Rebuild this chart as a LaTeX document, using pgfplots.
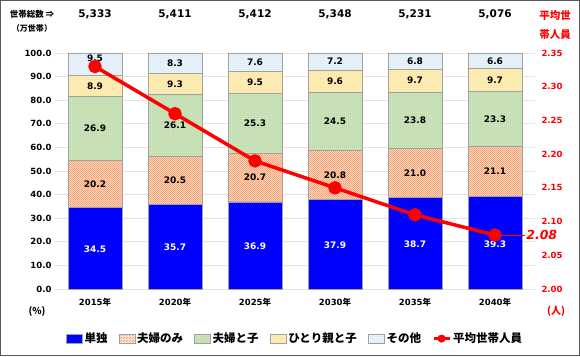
\documentclass[border=0pt]{standalone}
\usepackage{fontspec}
\setmainfont{DejaVu Sans}
\newfontfamily\jp{Noto Sans CJK JP}
\usepackage{pgfplots}
\pgfplotsset{compat=1.18}
\usetikzlibrary{patterns}
\definecolor{solo}{HTML}{0000FF}
\definecolor{coupleF}{HTML}{FDE3D3}
\definecolor{coupleP}{HTML}{F4A070}
\definecolor{kidsF}{HTML}{CBE3BA}
\definecolor{kidsP}{HTML}{A6CD8A}
\definecolor{singleF}{HTML}{FFEDB8}
\definecolor{singleP}{HTML}{F3D07A}
\definecolor{otherF}{HTML}{E8F3FB}
\definecolor{otherP}{HTML}{B5D6EF}
\definecolor{gridc}{HTML}{E4E4E4}
\definecolor{edgec}{HTML}{A0A0A0}
\pgfdeclarepatternformonly{finecheck}{\pgfpointorigin}{\pgfpoint{2.4pt}{2.4pt}}{\pgfpoint{2.4pt}{2.4pt}}{%
 \pgfpathrectangle{\pgfpointorigin}{\pgfpoint{1.2pt}{1.2pt}}%
 \pgfpathrectangle{\pgfpoint{1.2pt}{1.2pt}}{\pgfpoint{1.2pt}{1.2pt}}%
 \pgfusepath{fill}}
\pgfdeclarepatternformonly{finedots}{\pgfpointorigin}{\pgfpoint{2pt}{2pt}}{\pgfpoint{2pt}{2pt}}{%
 \pgfpathrectangle{\pgfpointorigin}{\pgfpoint{0.8pt}{0.8pt}}%
 \pgfusepath{fill}}
\pgfplotsset{common/.style={
 at={(55pt,67pt)}, anchor=south west,
 scale only axis, width=480pt, height=236pt,
 xmin=-0.5, xmax=5.5, clip=false,
 axis line style={draw=none}, major tick length=0pt,
 /pgf/number format/assume math mode=true}}
\begin{document}
\begin{tikzpicture}
\useasboundingbox (0pt,0pt) rectangle (580pt,356pt);
\draw[gray!70!black, line width=1pt] (0.5pt,0.5pt) rectangle (579.5pt,355.5pt);
\begin{axis}[common,
 ymin=0, ymax=100,
 ybar stacked, bar width=54pt,
 area legend,
 legend image code/.code={\draw[#1] (0pt,-4.5pt) rectangle (16pt,4.5pt);},
 xtick={0,1,2,3,4,5},
 xticklabels={2015{\jp 年},2020{\jp 年},2025{\jp 年},2030{\jp 年},2035{\jp 年},2040{\jp 年}},
 xticklabel style={font=\bfseries\fontsize{8.5}{10}\selectfont, yshift=-6pt},
 ytick={0,10,20,30,40,50,60,70,80,90,100},
 yticklabel style={font=\bfseries\fontsize{8.5}{10}\selectfont, /pgf/number format/.cd, fixed, fixed zerofill, precision=1},
 ymajorgrids, grid style={gridc, line width=0.8pt},
 legend style={at={(0.5,-0.21)}, anchor=center, draw=none, fill=none, legend columns=-1,
   font=\jp\bfseries\fontsize{11.5}{13}\selectfont, inner sep=0pt,
   /tikz/every even column/.append style={column sep=9pt}},
]
\addplot[fill=solo, draw=edgec, line width=0.6pt]
 coordinates {(0,34.5) (1,35.7) (2,36.9) (3,37.9) (4,38.7) (5,39.3)};
\addlegendentry{単独}
\addplot[fill=coupleF, draw=edgec, line width=0.6pt, postaction={pattern=finecheck, pattern color=coupleP}]
 coordinates {(0,20.2) (1,20.5) (2,20.7) (3,20.8) (4,21.0) (5,21.1)};
\addlegendentry{夫婦のみ}
\addplot[fill=kidsF, draw=edgec, line width=0.6pt, postaction={pattern=finedots, pattern color=kidsP}]
 coordinates {(0,26.9) (1,26.1) (2,25.3) (3,24.5) (4,23.8) (5,23.3)};
\addlegendentry{夫婦と子}
\addplot[fill=singleF, draw=edgec, line width=0.6pt, postaction={pattern=finedots, pattern color=singleP}]
 coordinates {(0,8.9) (1,9.3) (2,9.5) (3,9.6) (4,9.7) (5,9.7)};
\addlegendentry{ひとり親と子}
\addplot[fill=otherF, draw=edgec, line width=0.6pt, postaction={pattern=finedots, pattern color=otherP}]
 coordinates {(0,9.5) (1,8.3) (2,7.6) (3,7.2) (4,6.8) (5,6.6)};
\addlegendentry{その他}
\addlegendimage{legend image code/.code={\draw[red, line width=3pt] (0pt,0pt) -- (16pt,0pt); \fill[red] (8pt,0pt) circle (3.8pt);}}
\addlegendentry{平均世帯人員}
\foreach \i/\v in {0/{5,333},1/{5,411},2/{5,412},3/{5,348},4/{5,231},5/{5,076}}{
 \edef\tmp{\noexpand\node[font=\noexpand\bfseries\noexpand\fontsize{10.5}{12}\noexpand\selectfont] at (axis cs:\i,116.5) {\v};}\tmp
}
\end{axis}
% segment labels (centres of the stacked segments)
\begin{axis}[common, ymin=0, ymax=100, hide axis,
 nodes near coords, point meta=explicit symbolic,
 every node near coord/.append style={anchor=center, font=\bfseries\fontsize{9}{10}\selectfont}]
\addplot[only marks, mark=none, nodes near coords style={text=white}] coordinates
 {(0,17.0)[34.5] (1,17.6)[35.7] (2,18.2)[36.9] (3,18.7)[37.9] (4,19.1)[38.7] (5,18.8)[39.3]};
\addplot[only marks, mark=none, nodes near coords style={text=black}] coordinates
 {(0,44.6)[20.2] (1,45.95)[20.5] (2,47.25)[20.7] (3,48.3)[20.8] (4,49.2)[21.0] (5,49.85)[21.1]
  (0,68.15)[26.9] (1,69.25)[26.1] (2,70.25)[25.3] (3,70.95)[24.5] (4,71.6)[23.8] (5,72.05)[23.3]
  (0,86.05)[8.9] (1,86.95)[9.3] (2,87.65)[9.5] (3,88.0)[9.6] (4,88.35)[9.7] (5,88.55)[9.7]
  (0,97.6)[9.5] (1,95.75)[8.3] (2,96.2)[7.6] (3,96.4)[7.2] (4,96.6)[6.8] (5,96.7)[6.6]};
\end{axis}
\begin{axis}[common,
 ymin=2.0, ymax=2.35,
 axis y line*=right, axis x line=none,
 ytick={2.00,2.05,2.10,2.15,2.20,2.25,2.30,2.35},
 yticklabel style={text=red, font=\bfseries\fontsize{8.5}{10}\selectfont, xshift=3pt, /pgf/number format/.cd, fixed, fixed zerofill, precision=2},
]
\addplot[red, line width=3.5pt, line join=round, mark=*, mark size=5pt, mark options={fill=red}]
 coordinates {(0,2.33) (1,2.26) (2,2.19) (3,2.15) (4,2.11) (5,2.08)};
\draw[red, line width=0.6pt] (axis cs:5,2.08) -- ++(30pt,0pt)
 node[anchor=west, inner sep=1pt, text=red, font=\bfseries\itshape\fontsize{12.5}{14}\selectfont] {2.08};
\end{axis}
\node[font=\jp\bfseries\fontsize{8.5}{10}\selectfont] at (32pt,342pt) {世帯総数 ⇒};
\node[font=\jp\bfseries\fontsize{8}{10}\selectfont] at (32pt,328pt) {（万世帯）};
\node[font=\jp\bfseries\fontsize{9.5}{10}\selectfont] at (37pt,45pt) {(\%)};
\node[text=red, font=\jp\bfseries\fontsize{10.5}{12}\selectfont] at (555pt,340pt) {平均世};
\node[text=red, font=\jp\bfseries\fontsize{10.5}{12}\selectfont] at (555pt,321pt) {帯人員};
\node[text=red, font=\jp\bfseries\fontsize{10}{12}\selectfont] at (556pt,45pt) {(人)};
\end{tikzpicture}
\end{document}
